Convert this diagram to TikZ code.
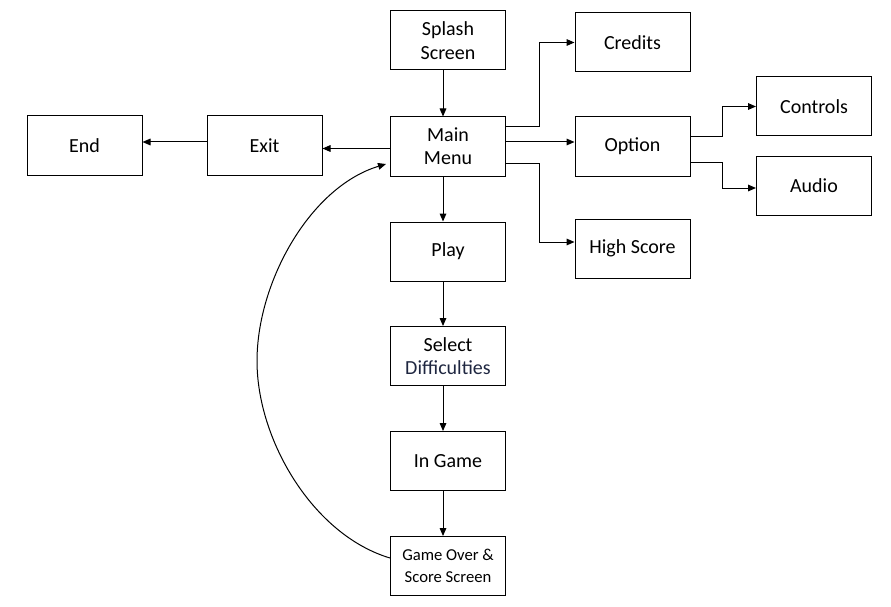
\documentclass[tikz,border=0pt]{standalone}
\usepackage{fontspec}
\setmainfont{Carlito}
\usetikzlibrary{arrows.meta,calc}
\definecolor{diffnavy}{RGB}{30,38,64}

\tikzset{every picture/.style={line width=0.75pt}}
\tikzset{
  screenbox/.style={draw, inner sep=0.75pt, minimum width=86.25pt, minimum height=44.25pt,
    align=center, font=\fontsize{15}{17.5}\selectfont},
  smallbox/.style={screenbox, font=\fontsize{12.5}{17}\selectfont},
  flow/.style={-{Triangle[length=6pt,width=5pt]}}
}

\begin{document}
\begin{tikzpicture}[x=0.75pt,y=0.75pt,yscale=-1,xscale=1]
\useasboundingbox (0,0) rectangle (891,606);

% Text Node
\node [screenbox] (splash) at (448,40.5) {Splash\\Screen};
% Text Node
\node [screenbox] (menu) at (448,146.5) {Main\\Menu};
% Text Node
\node [screenbox] (play) at (448,251.5) {Play};
% Text Node
\node [screenbox] (select) at (448,356) {Select\\\textcolor{diffnavy}{Difficulties}};
% Text Node
\node [screenbox] (ingame) at (448,461) {In Game};
% Text Node
\node [smallbox] (gover) at (448,566) {Game Over \&\\Score Screen};
% Text Node
\node [screenbox] (credits) at (632.5,42.5) {Credits};
% Text Node
\node [screenbox] (option) at (632.5,146.5) {Option};
% Text Node
\node [screenbox] (hscore) at (632.5,248.5) {High Score};
% Text Node
\node [screenbox] (controls) at (814,106.5) {Controls};
% Text Node
\node [screenbox] (audio) at (814,186) {Audio};
% Text Node
\node [screenbox] (exitn) at (264.5,145.5) {Exit};
% Text Node
\node [screenbox] (endn) at (84.5,145.5) {End};
\coordinate (loopleft) at (257,361);

%Straight Lines
\draw [flow] ($(splash.south)+(-5,0)$) -- ($(menu.north)+(-5,0)$);
\draw [flow] ($(menu.south)+(-5,0)$) -- ($(play.north)+(-5,0)$);
\draw [flow] ($(play.south)+(-5,0)$) -- ($(select.north)+(-5,0)$);
\draw [flow] ($(select.south)+(-5,0)$) -- ($(ingame.north)+(-5,0)$);
\draw [flow] ($(ingame.south)+(-5,0)$) -- ($(gover.north)+(-5,0)$);
%Elbow Lines
\draw [flow] ($(menu.east)+(0,-19.5)$) -| ($(credits.west)+(-35,0)$) -- (credits.west);
\draw [flow] ($(menu.east)+(0,-4.5)$) -- ($(option.west)+(0,-4.5)$);
\draw [flow] ($(menu.east)+(0,16.5)$) -| ($(hscore.west)+(-35,-6.5)$) -- ($(hscore.west)+(0,-6.5)$);
\draw [flow] ($(option.east)+(0,-9.5)$) -| ($(controls.west)+(-34,0)$) -- (controls.west);
\draw [flow] ($(option.east)+(0,15.5)$) -| ($(audio.west)+(-34,2)$) -- ($(audio.west)+(0,2)$);
%Straight Lines
\draw [flow] ($(menu.west)+(0,2)$) -- ($(exitn.east)+(0,3)$);
\draw [flow] ($(exitn.west)+(0,-3.5)$) -- ($(endn.east)+(0,-3.5)$);
%Curve Lines
\draw [flow] ($(gover.west)+(0,-8)$) .. controls +(-77,-23) and +(0,79) .. (loopleft)
  .. controls +(0,-79) and +(-76,23) .. ($(menu.west)+(-4,17.5)$);

\end{tikzpicture}
\end{document}
